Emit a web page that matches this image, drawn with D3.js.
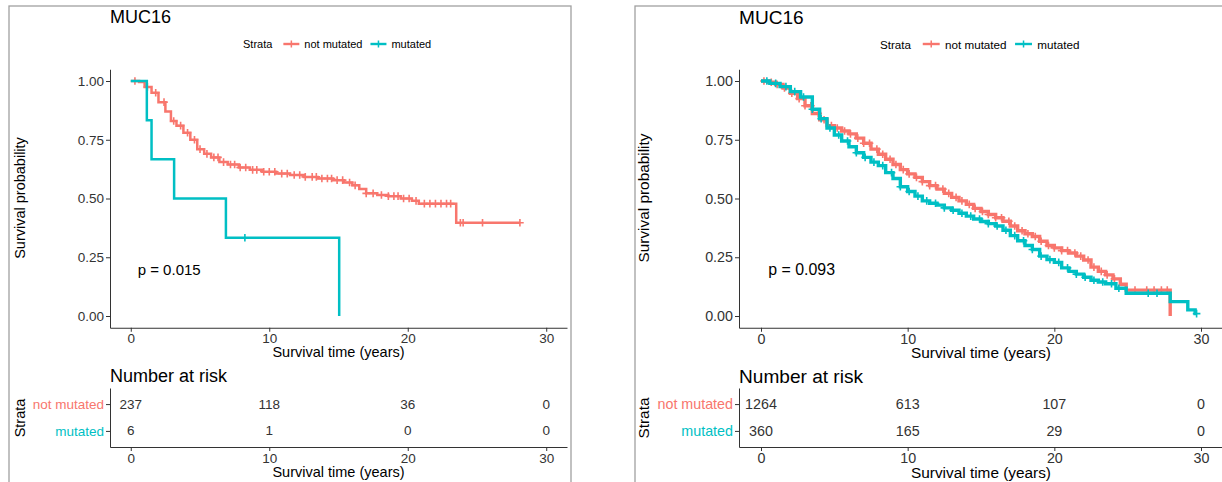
<!DOCTYPE html>
<html>
<head>
<meta charset="utf-8">
<script src="https://cdn.jsdelivr.net/npm/d3@7"></script>
<style>
  body { margin: 0; background: #fff; }
  svg { display: block; }
  text { font-family: "Liberation Sans", Arial, sans-serif; }
</style>
</head>
<body>
<svg id="chart" width="1222" height="482"></svg>
<script>
var strata = [ "not mutated", "mutated" ];
var strataColors = [ "#F8766D", "#00BFC4" ];
var timeTicks = [ 0, 10, 20, 30 ];
var survTicks = [ 0, 0.25, 0.5, 0.75, 1 ];

// steps are [time (years), survival]; censor = times of "+" marks
var leftNotMutSteps = [ [0,1],[0.6,0.996],[1.0,0.975],[1.5,0.95],[2.0,0.91],[2.5,0.87],[2.9,0.83],
  [3.3,0.81],[3.8,0.78],[4.3,0.75],[4.8,0.71],[5.3,0.69],[5.8,0.675],[6.4,0.655],[7.0,0.645],
  [7.8,0.632],[8.6,0.622],[9.5,0.614],[10.5,0.606],[11.5,0.6],[12.5,0.592],[13.5,0.585],
  [14.6,0.578],[15.4,0.568],[16.0,0.556],[16.5,0.54],[17.0,0.522],[17.8,0.515],[18.6,0.51],
  [19.5,0.5],[20.3,0.49],[20.8,0.478],[23.5,0.397],[28.1,0.397] ];
var leftNotMutCensor = [ 0.3,1.2,1.8,2.4,3.1,3.6,4.1,4.6,5.0,5.5,6.0,6.3,6.7,7.2,7.5,7.9,8.3,8.8,
  9.1,9.6,10.0,10.4,10.9,11.3,11.8,12.2,12.6,13.1,13.4,13.8,14.2,14.5,14.9,15.3,15.8,16.2,17.0,
  17.5,18.1,18.6,19.0,19.3,19.7,20.1,20.6,21.2,21.6,22.0,22.4,22.8,23.1,23.8,24.0,25.4,28.1 ];
var leftMutSteps = [ [0,1],[1.16,0.833],[1.5,0.667],[3.13,0.5],[6.87,0.333],[15.05,0] ];
var leftMutCensor = [ 8.24 ];
var leftRisk = [ [237,118,36,0], [6,1,0,0] ];

var rightNotMutSteps = [ [0,1],[0.5,0.995],[1.0,0.985],[1.5,0.97],[2.0,0.948],[2.5,0.925],[3.0,0.895],
  [3.5,0.862],[4.0,0.835],[4.5,0.81],[5.0,0.8],[5.5,0.787],[6.0,0.775],[6.5,0.757],[7.0,0.735],
  [7.5,0.71],[8.0,0.688],[8.5,0.667],[9.0,0.645],[9.5,0.623],[10.0,0.605],[10.5,0.59],[11.0,0.572],
  [11.5,0.555],[12.0,0.54],[12.5,0.522],[13.0,0.505],[13.5,0.49],[14.0,0.475],[14.5,0.458],
  [15.0,0.445],[15.5,0.432],[16.0,0.418],[16.5,0.403],[17.0,0.383],[17.5,0.363],[18.0,0.35],
  [18.5,0.338],[19.0,0.318],[19.5,0.3],[20.0,0.29],[20.5,0.278],[21.0,0.268],[21.5,0.255],
  [22.0,0.238],[22.5,0.208],[23.0,0.19],[23.5,0.175],[24.0,0.158],[24.5,0.135],[24.9,0.11],[27.9,0] ];
var rightNotMutCensor = [ 0.2,0.7,1.1,1.6,2.1,2.6,3.0,3.4,3.9,4.3,4.8,5.2,5.7,6.1,6.6,7.0,7.4,7.9,8.3,
  8.8,9.2,9.7,10.1,10.6,11.0,11.5,11.9,12.4,12.8,13.3,13.7,14.2,14.6,15.1,15.5,16.0,16.4,16.9,17.3,
  17.8,18.2,18.7,19.1,19.6,20.0,20.5,20.9,21.4,21.8,22.3,22.7,23.2,23.6,24.1,25.5,26.3,26.8,27.3,27.7 ];
var rightMutSteps = [ [0,1],[0.6,0.99],[1.3,0.976],[2.0,0.955],[2.7,0.932],[3.5,0.88],[4.0,0.84],
  [4.5,0.8],[5.0,0.77],[5.5,0.745],[6.0,0.72],[6.5,0.695],[7.0,0.675],[7.5,0.655],[8.0,0.64],
  [8.5,0.61],[9.0,0.585],[9.5,0.55],[10.0,0.53],[10.5,0.51],[11.0,0.49],[11.5,0.48],[12.0,0.472],
  [12.5,0.46],[13.0,0.45],[13.5,0.437],[14.0,0.425],[14.5,0.413],[15.0,0.402],[15.5,0.393],
  [16.0,0.383],[16.5,0.365],[17.0,0.342],[17.5,0.32],[18.0,0.3],[18.5,0.283],[19.0,0.255],
  [19.5,0.24],[20.0,0.228],[20.5,0.205],[21.0,0.19],[21.5,0.178],[22.0,0.165],[22.5,0.152],
  [23.0,0.145],[23.5,0.137],[24.2,0.118],[24.9,0.097],[27.9,0.061],[29.1,0.026],[29.6,0.01],[29.7,0.01] ];
var rightMutCensor = [ 0.4,1.0,1.7,2.3,2.9,3.5,4.1,4.7,5.3,5.9,6.5,7.1,7.7,8.3,8.9,9.5,10.1,10.7,
  11.3,11.9,12.5,13.1,13.7,14.3,14.9,15.5,16.1,16.7,17.3,17.9,18.5,19.1,19.7,20.3,20.9,21.5,22.1,
  22.7,23.3,23.9,24.4,26.4,27.0,29.7 ];
var rightRisk = [ [1264,613,107,0], [360,165,29,0] ];

var panels = [
  { x0: 110, x1: 567, k: 1, box: [9, 571], title: "MUC16", p: "p = 0.015", lw: 2.5,
    curves: [ [leftNotMutSteps, leftNotMutCensor], [leftMutSteps, leftMutCensor] ], risk: leftRisk },
  { x0: 739, x1: 1223, k: 1.06, box: [635, 1240], title: "MUC16", p: "p = 0.093", lw: 3.4,
    curves: [ [rightNotMutSteps, rightNotMutCensor], [rightMutSteps, rightMutCensor] ], risk: rightRisk }
];

var svg = d3.select( "#chart" );
panels.forEach( makePanel );

function label( g, x, y, s, size, opt ) {
    opt = opt || {};
    var t = g.append( "text" ).attr( "x", x ).attr( "y", y )
        .attr( "font-size", size ).attr( "fill", opt.fill || "#000" )
        .attr( "text-anchor", opt.anchor || "start" )
        .attr( "dominant-baseline", "central" ).text( s );
    if( opt.rot ) t.attr( "transform", "rotate(-90," + x + "," + y + ")" );
    return t;
}

function plus( g, x, y, r, color, w ) {
    g.append( "path" ).attr( "d", "M" + (x-r) + "," + y + "h" + 2*r + "M" + x + "," + (y-r) + "v" + 2*r )
        .attr( "stroke", color ).attr( "stroke-width", w ).attr( "fill", "none" );
}

function makePanel( P ) {
    var k = P.k;
    var g = svg.append( "g" );

    // panel frame
    g.append( "rect" ).attr( "x", P.box[0] ).attr( "y", 6 )
        .attr( "width", P.box[1] - P.box[0] ).attr( "height", 490 )
        .attr( "fill", "none" ).attr( "stroke", "#a0a0a0" ).attr( "stroke-width", 1.3 );

    var x = d3.scaleLinear().domain( [-1.5, 31.5] ).range( [P.x0, P.x1] );
    var y = d3.scaleLinear().domain( [-0.05, 1.05] ).range( [327.75, 69.25] );

    label( g, P.x0, 17, P.title, 18*k );

    // legend
    var lg = g.append( "g" ), lx = P.x0 + 133*k, ly = 44;
    var w = label( lg, lx, ly, "Strata", 11*k ).node().getComputedTextLength();
    lx += w + 11*k;
    strata.forEach( function( s, i ) {
        lg.append( "line" ).attr( "x1", lx ).attr( "x2", lx + 16*k ).attr( "y1", ly ).attr( "y2", ly )
            .attr( "stroke", strataColors[i] ).attr( "stroke-width", 2.4 );
        plus( lg, lx + 8*k, ly, 3.5, strataColors[i], 1.5 );
        lx += 21*k;
        w = label( lg, lx, ly, s, 11*k ).node().getComputedTextLength();
        lx += w + 8*k;
    } );

    // axes
    var ya = g.append( "g" ).attr( "transform", "translate(" + P.x0 + ",0)" )
        .call( d3.axisLeft( y ).tickValues( survTicks ).tickFormat( d3.format( ".2f" ) )
               .tickSize( 4 ).tickSizeOuter( 0 ).tickPadding( 2 ) );
    var xa = g.append( "g" ).attr( "transform", "translate(0,327.75)" )
        .call( d3.axisBottom( x ).tickValues( timeTicks ).tickSize( 4 ).tickSizeOuter( 0 ).tickPadding( 2 ) );
    [ ya, xa ].forEach( function( a ) {
        a.selectAll( "path,line" ).attr( "stroke", "#333" );
        a.selectAll( "text" ).attr( "font-size", 13.5*k ).attr( "fill", "#333" )
            .attr( "font-family", "Liberation Sans, Arial, sans-serif" );
    } );
    label( g, (P.x0 + P.x1)/2, 352, "Survival time (years)", 14.5*k, { anchor: "middle" } );
    label( g, P.x0 - 90*k, 198, "Survival probability", 14.5*k, { anchor: "middle", rot: true } );

    // survival curves
    var line = d3.line().x( d=>x(d[0]) ).y( d=>y(d[1]) ).curve( d3.curveStepAfter );
    var bis = d3.bisector( d=>d[0] ).right;
    P.curves.forEach( function( c, i ) {
        g.append( "path" ).attr( "d", line( c[0] ) ).attr( "fill", "none" )
            .attr( "stroke", strataColors[i] ).attr( "stroke-width", P.lw );
        c[1].forEach( function( t ) {
            var s = c[0][ Math.max( 0, bis( c[0], t ) - 1 ) ][1];
            plus( g, x(t), y(s), 3.8, strataColors[i], 1.6 );
        } );
    } );

    label( g, x(0.5), y(0.2), P.p, 15*k );

    // risk table
    label( g, P.x0, 376, "Number at risk", 18*k );
    var ry = d3.scalePoint().domain( [ "mutated", "not mutated" ] ).range( [447, 388] ).padding( 0.6 );
    var rya = g.append( "g" ).attr( "transform", "translate(" + P.x0 + ",0)" )
        .call( d3.axisLeft( ry ).tickSize( 4 ).tickSizeOuter( 0 ).tickPadding( 2 ) );
    var rxa = g.append( "g" ).attr( "transform", "translate(0,447)" )
        .call( d3.axisBottom( x ).tickValues( timeTicks ).tickSize( 4 ).tickSizeOuter( 0 ).tickPadding( 2 ) );
    [ rya, rxa ].forEach( function( a ) {
        a.selectAll( "path,line" ).attr( "stroke", "#333" );
        a.selectAll( "text" ).attr( "font-size", 13.5*k ).attr( "fill", "#333" )
            .attr( "font-family", "Liberation Sans, Arial, sans-serif" );
    } );
    rya.selectAll( "text" ).attr( "fill", d=>strataColors[ strata.indexOf( d ) ] );
    label( g, (P.x0 + P.x1)/2, 472, "Survival time (years)", 14.5*k, { anchor: "middle" } );
    label( g, P.x0 - 90*k, 418, "Strata", 14.5*k, { anchor: "middle", rot: true } );

    strata.forEach( function( s, i ) {
        timeTicks.forEach( function( t, j ) {
            label( g, x(t), ry(s), P.risk[i][j], 13.5*k, { anchor: "middle", fill: "#333" } );
        } );
    } );
}
</script>
</body>
</html>
